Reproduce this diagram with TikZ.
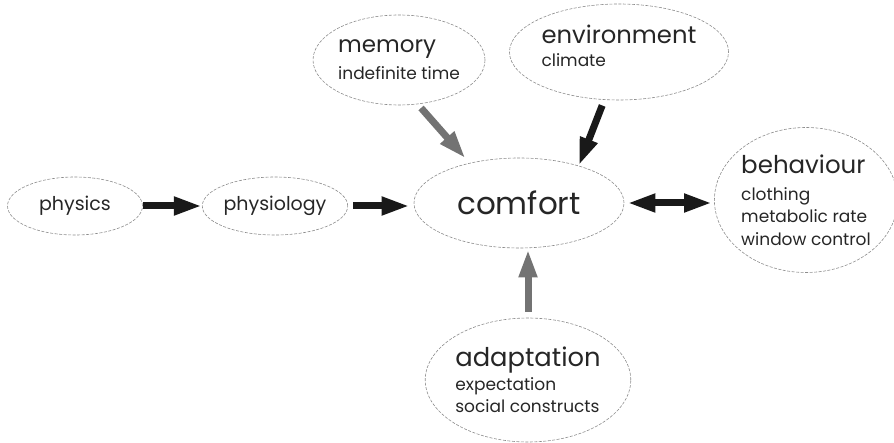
\documentclass[tikz,border=0pt]{standalone}
\usepackage{fontspec}
\setmainfont{Poppins}
\usetikzlibrary{shapes.geometric,arrows.meta}

\newcommand{\bigword}{\fontsize{31}{36}\selectfont}
\newcommand{\midword}{\fontsize{19}{22}\selectfont}
\newcommand{\headword}[1]{\fontsize{#1}{26}\selectfont}
\newcommand{\smallword}{\fontsize{17}{22.5}\selectfont}

\begin{document}
\begin{tikzpicture}[x=1pt,y=-1pt,
  bubble/.style={ellipse, draw=black!45, dash pattern=on 3pt off 1.5pt, line width=0.6pt,
    inner sep=0pt, text=black!85, align=left, font=\smallword},
  blackarrow/.style={line width=7pt, black!90, -{Triangle[length=28pt 0, width=17pt 0]}},
  greyarrow/.style={blackarrow, black!55},
  bothways/.style={line width=7pt, black!90, {Triangle[length=28pt 0, width=17pt 0]}-{Triangle[length=28pt 0, width=17pt 0]}}]

\useasboundingbox (0,0) rectangle (894,443);
\coordinate (A) at (75,206);
\coordinate (B) at (275,206);
\coordinate (C) at (519,203);
\coordinate (D) at (399,60);
\coordinate (E) at (619,52);
\coordinate (F) at (806,200);
\coordinate (G) at (528,380);

\node [bubble, minimum width=135, minimum height=58] (physics) at (A) {\midword physics};
\node [bubble, minimum width=134, minimum height=58] (physiology) at (B) {\midword physiology};
\node [bubble, minimum width=210, minimum height=90] (comfort) at (C) {\bigword comfort};
\node [bubble, minimum width=168, minimum height=90] (memory) at (D)
  {\headword{23}memory\\[4.5pt] indefinite time};
\node [bubble, minimum width=178, minimum height=96] (environment) at (E)
  {\headword{24.3}environment\\ climate\rule[-12pt]{0pt}{0pt}};
\node [bubble, minimum width=174, minimum height=145] (behaviour) at (F)
  {\headword{24.5}behaviour\\[4.5pt] clothing\\ metabolic rate\\ window control};
\node [bubble, minimum width=177, minimum height=124] (adaptation) at (G)
  {\headword{25.8}adaptation\\[1.5pt] expectation\\ social constructs};

\draw [blackarrow] (physics.east) -- (physiology.west);
\draw [blackarrow, shorten <=5pt, shorten >=4pt] (physiology.east) -- (physiology.east -| comfort.west);
\draw [bothways, shorten <=3pt, shorten >=2pt] (comfort.east) -- (comfort.east -| behaviour.west);
\draw [greyarrow, shorten <=5pt, shorten >=6pt] (memory.-67) -- (comfort.141);
\draw [blackarrow, shorten <=6pt] (environment.253) -- (comfort.32);
\draw [greyarrow, shorten <=6pt, shorten >=1pt] (adaptation.north) -- (adaptation.north |- comfort.south);
\end{tikzpicture}
\end{document}
